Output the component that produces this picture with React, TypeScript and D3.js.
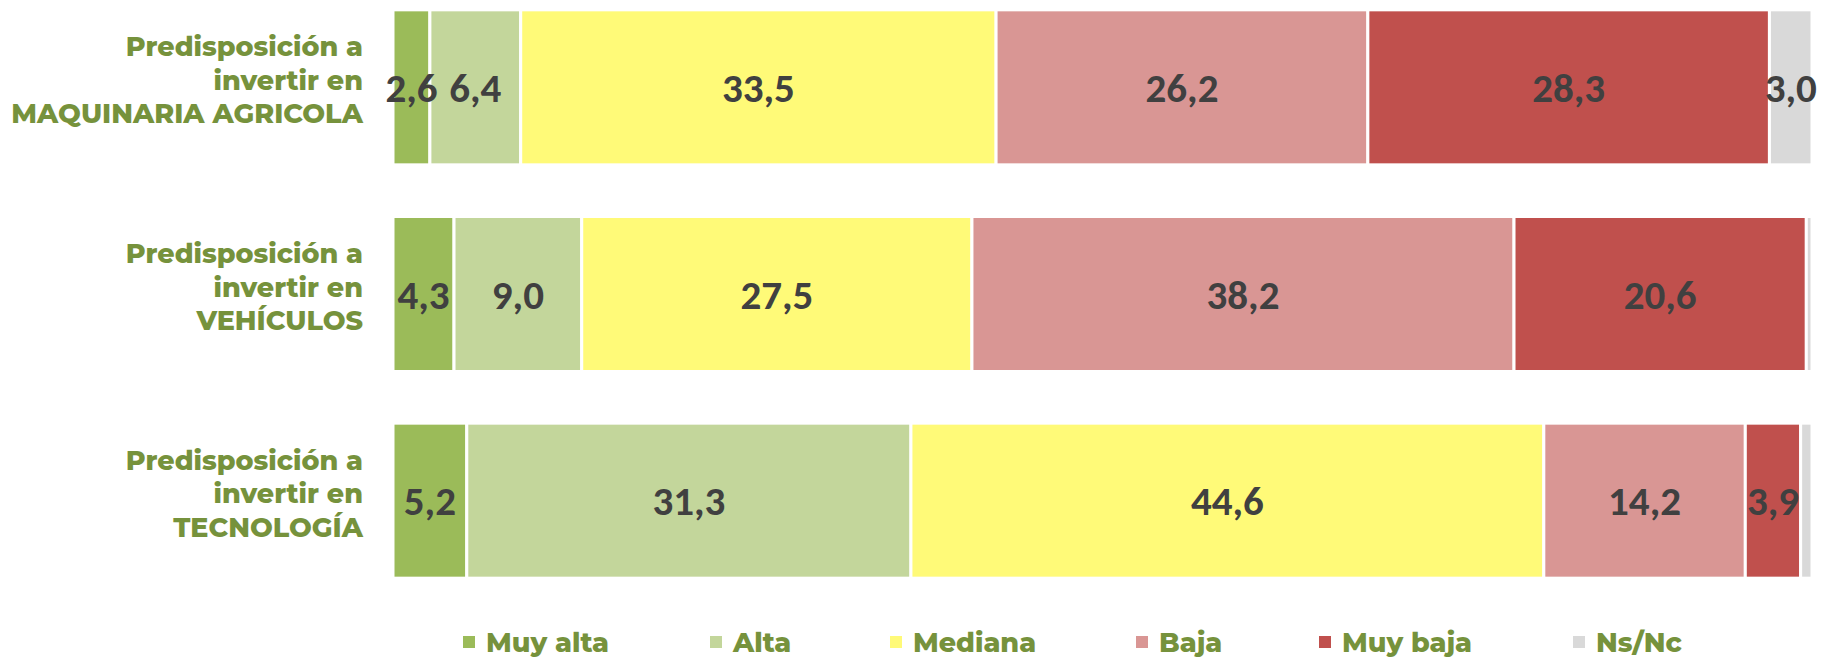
import { useEffect } from 'react';
import * as d3 from 'd3';

// categories (each label broken into its lines)
const CATEGORIES = ['MAQUINARIA AGRICOLA', 'VEHÍCULOS', 'TECNOLOGÍA'];
const CATEGORY_LINES = [
  ['Predisposición a', 'invertir en', 'MAQUINARIA AGRICOLA'],
  ['Predisposición a', 'invertir en', 'VEHÍCULOS'],
  ['Predisposición a', 'invertir en', 'TECNOLOGÍA'],
];

const SERIES = ['Muy alta', 'Alta', 'Mediana', 'Baja', 'Muy baja', 'Ns/Nc'];
const COLORS = ['#9BBB59', '#C3D69B', '#FFFA78', '#D99694', '#C0504D', '#D9D9D9'];

// percentages per category, in series order
const MUY_ALTA = [2.6, 4.3, 5.2];
const ALTA = [6.4, 9.0, 31.3];
const MEDIANA = [33.5, 27.5, 44.6];
const BAJA = [26.2, 38.2, 14.2];
const MUY_BAJA = [28.3, 20.6, 3.9];
const NS_NC = [3.0, 0.4, 0.8];

const W = 1821;
const H = 661;
const GREEN = '#76923C';
const LABEL_FONT = 'Montserrat, Inter, "Open Sans", sans-serif';
const VALUE_FONT = 'Carlito, Calibri, Lato, "Open Sans", sans-serif';

// legend marker x positions, as laid out in the original
const LEGEND_X = [463, 710, 890, 1136, 1319, 1573];

const fmt = (v: number) => v.toFixed(1).replace('.', ',');

export default function App() {
  useEffect(() => {
    document.body.style.margin = '0';
  }, []);

  const values = [MUY_ALTA, ALTA, MEDIANA, BAJA, MUY_BAJA, NS_NC];
  const rows = CATEGORIES.map((c, i) => {
    const r: Record<string, number | string> = { cat: c };
    SERIES.forEach((s, j) => (r[s] = values[j][i]));
    return r;
  });
  const stacked = d3.stack<Record<string, number | string>>().keys(SERIES)(rows as any);

  const x = d3.scaleLinear().domain([0, 100]).range([393, 1812]);
  const y = d3
    .scaleBand<string>()
    .domain(CATEGORIES)
    .range([-16, 604])
    .paddingInner(0.25)
    .paddingOuter(0.125);

  return (
    <svg width={W} height={H} style={{ display: 'block', background: '#fff' }}>
      {/* bar segments */}
      {stacked.map((layer, j) => (
        <g key={SERIES[j]}>
          {layer.map((d, i) => (
            <rect
              key={i}
              x={x(d[0])}
              y={y(CATEGORIES[i])!}
              width={Math.max(0, x(d[1]) - x(d[0]))}
              height={y.bandwidth()}
              fill={COLORS[j]}
              stroke="#fff"
              strokeWidth={3}
            />
          ))}
        </g>
      ))}

      {/* value labels on top of all segments */}
      {stacked.map((layer, j) => (
        <g key={'lbl' + SERIES[j]}>
          {layer.map((d, i) => {
            const v = d[1] - d[0];
            if (v < 1) return null;
            return (
              <text
                key={i}
                x={(x(d[0]) + x(d[1])) / 2}
                y={y(CATEGORIES[i])! + y.bandwidth() / 2}
                dy="0.36em"
                textAnchor="middle"
                fontFamily={VALUE_FONT}
                fontWeight={700}
                fontSize={41}
                fill="#404040"
              >
                {fmt(v)}
              </text>
            );
          })}
        </g>
      ))}

      {CATEGORIES.map((c, i) => {
        const cy = y(c)! + y.bandwidth() / 2;
        return (
          <text
            key={c}
            textAnchor="end"
            fontFamily={LABEL_FONT}
            fontWeight={800}
            fontSize={27}
            fill={GREEN}
          >
            {CATEGORY_LINES[i].map((line, k) => (
              <tspan key={k} x={363} y={cy - 31 + k * 33.5}>
                {line}
              </tspan>
            ))}
          </text>
        );
      })}

      <g>
        {SERIES.map((s, j) => (
          <g key={s} transform={`translate(${LEGEND_X[j]},636)`}>
            <rect width={12} height={12} fill={COLORS[j]} />
            <text
              x={23}
              y={16}
              fontFamily={LABEL_FONT}
              fontWeight={800}
              fontSize={27}
              fill={GREEN}
            >
              {s}
            </text>
          </g>
        ))}
      </g>
    </svg>
  );
}
